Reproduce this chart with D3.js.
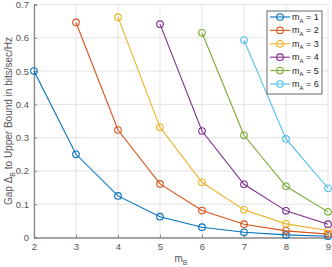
<html lang="en">
<head>
  <script src="https://d3js.org/d3.v7.min.js"></script>
  <style>
    body { margin: 0; background: white; }
    svg { font-family: "Liberation Sans", Arial, sans-serif; }
  </style>
</head>
<body>
  <svg id="chart" width="332" height="267"></svg>
  <script>
    const mB = [2, 3, 4, 5, 6, 7, 8, 9];
    const mA = [1, 2, 3, 4, 5, 6];
    // gap per m_A series, starting at m_B = m_A + 1
    const gap1 = [0.5, 0.25, 0.125, 0.0625, 0.031, 0.0156, 0.0078, 0.0039];
    const gap2 = [0.646, 0.323, 0.161, 0.081, 0.040, 0.020, 0.010];
    const gap3 = [0.662, 0.331, 0.166, 0.083, 0.041, 0.021];
    const gap4 = [0.641, 0.320, 0.160, 0.080, 0.040];
    const gap5 = [0.615, 0.307, 0.154, 0.077];
    const gap6 = [0.593, 0.296, 0.148];
    const gaps = [gap1, gap2, gap3, gap4, gap5, gap6];
    const colors = ["#0072BD", "#D95319", "#EDB120", "#7E2F8E", "#77AC30", "#4DBEEE"];
    const yTicks = [0, 0.1, 0.2, 0.3, 0.4, 0.5, 0.6, 0.7];

    const svg = d3.select("#chart");
    const margin = { top: 4.5, right: 4, bottom: 29.5, left: 34 };
    const width = 332, height = 267;

    const x = d3.scaleLinear().domain([2, 9]).range([margin.left, width - margin.right]);
    const y = d3.scaleLinear().domain([0, 0.7]).range([height - margin.bottom, margin.top]);

    // grid
    svg.append("g").selectAll("line")
      .data(mB).enter().append("line")
      .attr("x1", d => x(d)).attr("x2", d => x(d))
      .attr("y1", y(0)).attr("y2", y(0.7))
      .attr("stroke", "#e3e3e3").attr("stroke-width", 1);
    svg.append("g").selectAll("line")
      .data(yTicks).enter().append("line")
      .attr("x1", x(2)).attr("x2", x(9))
      .attr("y1", d => y(d)).attr("y2", d => y(d))
      .attr("stroke", "#e3e3e3").attr("stroke-width", 1);

    // axes
    const xAxis = d3.axisBottom(x).tickValues(mB).tickSize(-3).tickPadding(6).tickFormat(d3.format("d"));
    const yAxis = d3.axisLeft(y).tickValues(yTicks).tickSize(-3).tickPadding(5).tickFormat(d => d === 0 ? "0" : d3.format(".1f")(d));

    const gx = svg.append("g").attr("transform", "translate(0," + y(0) + ")").call(xAxis);
    const gy = svg.append("g").attr("transform", "translate(" + x(2) + ",0)").call(yAxis);
    [gx, gy].forEach(g => {
      g.select(".domain").attr("stroke", "#8a8a8a").attr("stroke-width", 1.3);
      g.selectAll(".tick line").attr("stroke", "#8a8a8a");
      g.selectAll(".tick text").attr("fill", "#555").style("font-size", "9.5px").style("font-family", "Liberation Sans, Arial, sans-serif");
    });

    // lines
    const line = d3.line().x(d => x(d[0])).y(d => y(d[1]));
    gaps.forEach((g, i) => {
      const pts = g.map((v, j) => [mA[i] + 1 + j, v]);
      svg.append("path").datum(pts)
        .attr("d", line).attr("fill", "none")
        .attr("stroke", colors[i]).attr("stroke-width", 1.1);
      svg.append("g").selectAll("circle")
        .data(pts).enter().append("circle")
        .attr("cx", d => x(d[0])).attr("cy", d => y(d[1]))
        .attr("r", 3.3).attr("fill", "none")
        .attr("stroke", colors[i]).attr("stroke-width", 1.1);
    });

    // axis labels
    const xl = svg.append("text").attr("x", x(5.5)).attr("y", 262)
      .attr("text-anchor", "middle").attr("fill", "#555").style("font-size", "10px");
    xl.append("tspan").text("m");
    xl.append("tspan").attr("dy", 3).style("font-size", "7px").text("B");

    const yl = svg.append("text")
      .attr("transform", "translate(12," + y(0.35) + ") rotate(-90)")
      .attr("text-anchor", "middle").attr("fill", "#555").style("font-size", "10px");
    yl.append("tspan").text("Gap \u0394");
    yl.append("tspan").attr("dy", 3).style("font-size", "7px").text("B");
    yl.append("tspan").attr("dy", -3).text(" to Upper Bound in bits/sec/Hz");

    // legend
    const lg = svg.append("g").attr("transform", "translate(267,11)");
    lg.append("rect").attr("width", 55).attr("height", 83)
      .attr("fill", "white").attr("stroke", "#444").attr("stroke-width", 0.8);
    mA.forEach((m, i) => {
      const ry = 6 + i * 13.4;
      lg.append("line").attr("x1", 3).attr("x2", 23).attr("y1", ry).attr("y2", ry)
        .attr("stroke", colors[i]).attr("stroke-width", 1.1);
      lg.append("circle").attr("cx", 13).attr("cy", ry).attr("r", 3.3)
        .attr("fill", "none").attr("stroke", colors[i]).attr("stroke-width", 1.1);
      const t = lg.append("text").attr("x", 25).attr("y", ry + 3)
        .attr("fill", "#222").style("font-size", "9px");
      t.append("tspan").text("m");
      t.append("tspan").attr("dy", 2.5).style("font-size", "6px").text("A");
      t.append("tspan").attr("dy", -2.5).text(" = " + m);
    });
  </script>
</body>
</html>
